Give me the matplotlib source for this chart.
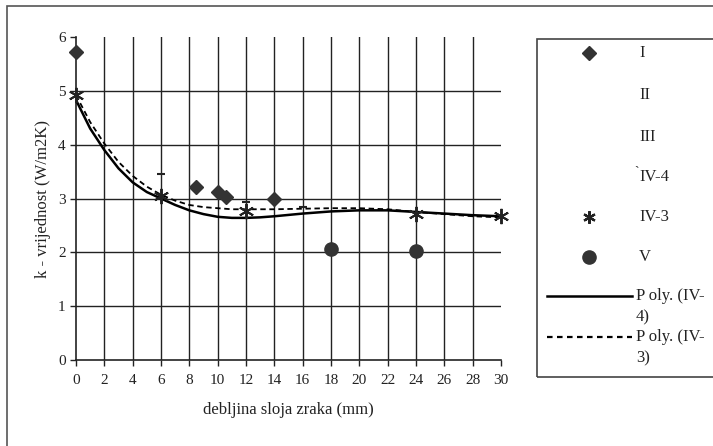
import matplotlib.pyplot as plt
from matplotlib.lines import Line2D
from matplotlib.patches import Rectangle

plt.rcParams['font.family'] = ['Liberation Serif', 'DejaVu Serif']

W, H = 713, 446

# measured series
x_I = [0, 8.5, 10, 10.6, 14]
y_I = [5.72, 3.22, 3.12, 3.02, 3.0]

x_IV4 = [6, 12, 16]
y_IV4 = [3.45, 2.93, 2.85]

x_IV3 = [0, 6, 12, 24, 30]
y_IV3 = [4.93, 3.05, 2.77, 2.71, 2.68]

x_V = [18, 24]
y_V = [2.06, 2.03]

# trend lines
x_fit4 = [0, 1, 2, 3, 4, 5, 6, 7, 8, 9, 10, 11, 12, 13, 14, 16, 18, 20, 22, 24, 26, 28, 30]
y_fit4 = [4.83, 4.3, 3.9, 3.56, 3.3, 3.12, 3.0, 2.88, 2.78, 2.71, 2.66, 2.64, 2.64, 2.65,
          2.67, 2.72, 2.76, 2.78, 2.78, 2.75, 2.72, 2.69, 2.67]
x_fit3 = [0, 1, 2, 3, 4, 5, 6, 7, 8, 9, 10, 11, 12, 14, 16, 18, 20, 22, 24, 26, 28, 30]
y_fit3 = [4.92, 4.42, 4.02, 3.68, 3.42, 3.22, 3.07, 2.96, 2.88, 2.84, 2.82, 2.8, 2.8,
          2.8, 2.81, 2.82, 2.82, 2.8, 2.75, 2.71, 2.67, 2.65]

legend_labels = ['I', 'II', 'III', 'IV-4', 'IV-3', 'V']
x_ticks = list(range(0, 31, 2))
y_ticks = list(range(0, 7))

INK = '#222222'


def fx(px):
    return px / W


def fy(py):
    return 1 - py / H


fig = plt.figure(figsize=(W / 100, H / 100), dpi=100)
ax = fig.add_axes([fx(76), fy(360), fx(501) - fx(76), fy(37) - fy(360)])

ax.set_xlim(0, 30)
ax.set_ylim(0, 6)
ax.set_xticks(x_ticks)
ax.set_yticks(y_ticks)

# grid lines, no line on the far right / top edge
for xv in x_ticks[1:-1]:
    ax.axvline(xv, color=INK, lw=1.0, zorder=1)
for yv in y_ticks[1:-1]:
    ax.axhline(yv, color=INK, lw=1.0, zorder=1)

for s in ['top', 'right']:
    ax.spines[s].set_visible(False)
for s in ['left', 'bottom']:
    ax.spines[s].set_color(INK)
    ax.spines[s].set_linewidth(1.2)
ax.tick_params(colors=INK, labelsize=11, length=4, width=1)
ax.tick_params(axis='x', pad=6)
ax.set_xlabel('debljina sloja zraka (mm)', fontsize=12, color=INK, labelpad=11)
ax.set_ylabel('k - vrijednost (W/m2K)', fontsize=12, color=INK, labelpad=5)

ax.plot(x_fit4, y_fit4, color='black', lw=1.8, zorder=3)
ax.plot(x_fit3, y_fit3, color='black', lw=1.3, ls=(0, (3, 2)), zorder=3)

ax.plot(x_I, y_I, ls='none', marker='D', ms=7.5, color='#333333', zorder=4, clip_on=False)
ax.plot(x_IV4, y_IV4, ls='none', marker='_', ms=6, mew=1.5, color=INK, zorder=4)
ax.plot(x_IV3, y_IV3, ls='none', marker=(6, 2, 0), ms=11, mew=1.4, color=INK, zorder=5,
        clip_on=False)
ax.plot(x_V, y_V, ls='none', marker='o', ms=9.5, color='#333333', zorder=4)

# outer frame
fig.add_artist(Rectangle((fx(7), fy(470)), fx(740) - fx(7), fy(6) - fy(470),
                         transform=fig.transFigure, fill=False, ec='#555555', lw=1.2,
                         clip_on=False))

# legend box, cut off at the right edge
fig.add_artist(Rectangle((fx(537), fy(377)), fx(740) - fx(537), fy(39) - fy(377),
                         transform=fig.transFigure, fill=False, ec='#444444', lw=1.2,
                         clip_on=False))

leg_y = [53, 95, 137, 177, 217, 257]
leg_markers = {'I': dict(marker='D', ms=7, color='#333333'),
               'IV-3': dict(marker=(6, 2, 0), ms=9, mew=1.6, color=INK),
               'V': dict(marker='o', ms=9.5, color='#333333')}
for lab, py in zip(legend_labels, leg_y):
    if lab in leg_markers:
        fig.add_artist(Line2D([fx(589)], [fy(py)], transform=fig.transFigure,
                              ls='none', **leg_markers[lab]))
    fig.text(fx(639), fy(py), lab, fontsize=12, color=INK, va='center')
fig.text(fx(634), fy(172), '`', fontsize=10, color=INK, va='center')

fig.add_artist(Line2D([fx(547), fx(632)], [fy(296), fy(296)], transform=fig.transFigure,
                      color='black', lw=1.8))
fig.text(fx(636), fy(296), 'P oly. (IV-', fontsize=12, color=INK, va='center')
fig.text(fx(636), fy(317), '4)', fontsize=12, color=INK, va='center')
fig.add_artist(Line2D([fx(547), fx(632)], [fy(337), fy(337)], transform=fig.transFigure,
                      color='black', lw=1.6, ls=(0, (2.5, 2))))
fig.text(fx(636), fy(337), 'P oly. (IV-', fontsize=12, color=INK, va='center')
fig.text(fx(636), fy(358), '3)', fontsize=12, color=INK, va='center')

fig.savefig('out.png', dpi=100)
